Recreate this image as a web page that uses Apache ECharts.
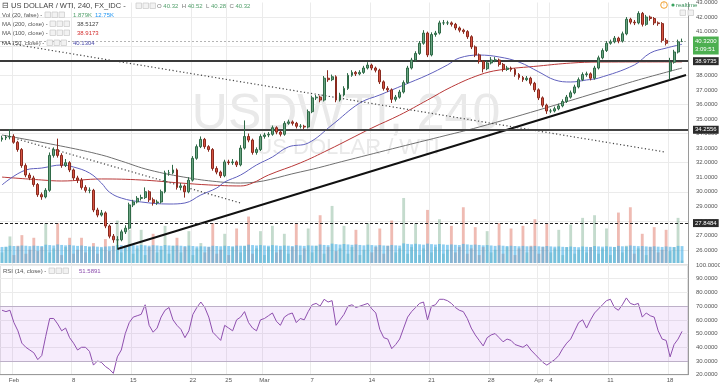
<!DOCTYPE html>
<html><head><meta charset="utf-8">
<script src="https://cdn.jsdelivr.net/npm/echarts@6/dist/echarts.min.js"></script>
<style>html,body{margin:0;padding:0;background:#fff;}#c{width:720px;height:385px;}</style>
</head><body><div id="c"></div>
<script>
// ---- data: [open, close, low, high] per 4h-style bar ----
const ohlc = [
[33.60,33.70,33.45,33.85],[33.70,33.76,33.55,33.90],[33.76,33.80,33.60,34.30],[33.80,33.40,33.30,33.95],[33.40,32.90,32.75,33.50],
[32.90,31.80,31.65,33.00],[31.80,31.15,31.00,31.95],[31.15,30.95,30.80,31.30],[30.95,30.50,30.35,31.10],[30.50,29.80,29.65,30.60],
[29.80,29.65,29.45,29.95],[29.65,30.10,29.55,30.25],[30.10,32.50,30.00,32.70],[32.50,32.90,32.35,33.05],[32.90,32.50,32.35,33.65],
[32.50,31.80,31.65,32.65],[31.80,32.00,31.70,32.25],[32.00,31.50,31.35,32.10],[31.50,30.95,30.80,31.60],[30.95,30.80,30.60,31.10],
[30.80,30.30,30.15,30.95],[30.30,30.10,29.95,30.45],[30.10,30.10,29.90,30.30],[30.10,28.75,28.60,30.20],[28.75,28.40,28.25,28.90],
[28.40,28.55,28.30,28.75],[28.55,27.65,27.50,28.65],[27.65,26.95,26.80,27.75],[26.95,26.70,26.50,27.10],[26.70,26.70,26.10,26.95],
[26.70,27.25,26.60,27.40],[27.25,27.50,27.10,27.70],[27.50,29.10,27.40,29.25],[29.10,29.30,28.95,29.45],[29.30,29.55,29.20,29.70],
[29.55,29.60,29.40,29.80],[29.60,30.00,29.50,30.30],[30.00,29.45,29.30,30.10],[29.45,29.25,29.05,29.60],[29.25,29.30,29.10,29.45],
[29.30,30.00,29.20,30.15],[30.00,31.30,29.90,31.45],[31.30,31.30,31.10,31.50],[31.30,31.50,31.20,31.85],[31.50,30.30,30.15,31.60],
[30.30,30.40,30.10,30.60],[30.40,30.00,29.60,30.50],[30.00,30.80,29.90,31.00],[30.80,32.30,30.70,32.45],[32.30,33.10,32.20,33.25],
[33.10,33.60,33.00,33.80],[33.60,33.10,32.95,33.70],[33.10,32.90,32.75,33.20],[32.90,31.60,31.45,33.00],[31.60,31.35,31.20,31.75],
[31.35,31.10,30.95,31.45],[31.10,32.05,31.00,32.20],[32.05,32.00,31.85,32.20],[32.00,32.05,31.85,32.25],[32.05,31.85,31.70,32.15],
[31.85,33.00,31.75,33.20],[33.00,33.80,32.90,34.90],[33.80,33.55,33.40,34.00],[33.55,32.70,32.55,33.65],[32.70,32.90,32.55,33.05],
[32.90,33.80,32.80,33.95],[33.80,33.90,33.65,34.05],[33.90,33.95,33.75,34.10],[33.95,34.40,33.85,34.55],[34.40,34.10,33.95,34.50],
[34.10,33.95,33.80,34.20],[33.95,34.70,33.85,34.85],[34.70,34.80,34.60,34.95],[34.80,34.70,34.55,34.90],[34.70,34.50,34.35,34.80],
[34.50,34.50,34.35,34.65],[34.50,34.45,34.30,34.60],[34.45,35.50,34.35,35.65],[35.50,36.45,35.40,36.60],[36.45,36.50,36.30,36.65],
[36.50,36.30,36.15,36.60],[36.30,37.80,36.20,37.95],[37.80,37.70,37.55,38.35],[37.70,37.90,37.60,38.05],[37.90,36.30,36.15,38.00],
[36.30,36.65,36.20,36.80],[36.65,37.10,36.55,37.25],[37.10,38.00,37.00,38.15],[38.00,38.20,37.90,38.35],[38.20,38.10,37.95,38.30],
[38.10,38.20,38.00,38.35],[38.20,38.50,38.10,38.65],[38.50,38.70,38.40,38.90],[38.70,38.50,38.35,38.80],[38.50,38.35,38.20,38.60],
[38.35,37.55,37.40,38.45],[37.55,37.10,36.95,37.65],[37.10,37.00,36.85,37.25],[37.00,36.35,36.10,37.10],[36.35,36.50,36.20,36.65],
[36.50,36.85,36.40,37.00],[36.85,37.50,36.75,37.65],[37.50,38.50,37.40,38.65],[38.50,39.05,38.40,39.20],[39.05,39.50,38.95,39.65],
[39.50,40.20,39.40,40.35],[40.20,40.90,40.10,41.10],[40.90,39.40,39.25,41.00],[39.40,40.80,39.30,40.95],[40.80,40.90,40.65,41.05],
[40.90,41.60,40.80,41.75],[41.60,41.60,41.45,41.80],[41.60,41.60,41.45,41.75],[41.60,41.50,41.35,41.70],[41.50,41.25,41.10,41.60],
[41.25,41.10,40.95,41.35],[41.10,41.00,40.85,41.20],[41.00,40.65,40.50,41.10],[40.65,39.95,39.80,40.75],[39.95,39.40,39.25,40.05],
[39.40,38.95,38.80,39.50],[38.95,38.45,38.20,39.05],[38.45,38.85,38.35,39.00],[38.85,39.05,38.75,39.25],[39.05,39.05,38.90,39.25],
[39.05,38.75,38.60,39.15],[38.75,38.40,38.25,38.85],[38.40,38.50,38.30,38.65],[38.50,38.40,38.25,38.60],[38.40,38.05,37.90,38.50],
[38.05,37.85,37.70,38.15],[37.85,37.70,37.55,37.95],[37.70,37.80,37.60,37.95],[37.80,37.45,37.30,37.90],[37.45,37.00,36.85,37.55],
[37.00,36.45,36.30,37.10],[36.45,35.95,35.80,36.55],[35.95,35.55,35.35,36.05],[35.55,35.55,35.40,35.70],[35.55,35.70,35.45,35.85],
[35.70,35.90,35.60,36.05],[35.90,36.20,35.80,36.35],[36.20,36.50,36.10,36.65],[36.50,36.80,36.40,36.95],[36.80,37.20,36.70,37.35],
[37.20,37.70,37.10,37.85],[37.70,38.05,37.60,38.20],[38.05,38.10,37.90,38.25],[38.10,37.80,37.65,38.20],[37.80,38.50,37.70,38.65],
[38.50,39.20,38.40,39.35],[39.20,39.70,39.10,39.85],[39.70,40.20,39.60,40.35],[40.20,40.30,40.10,40.45],[40.30,40.55,40.20,40.70],
[40.55,40.35,40.20,40.65],[40.35,40.85,40.25,41.00],[40.85,41.85,40.75,42.00],[41.85,41.65,41.50,41.95],[41.65,41.60,41.45,41.80],
[41.60,42.25,41.50,42.40],[42.25,41.50,41.35,42.35],[41.50,42.00,41.40,42.15],[42.00,41.90,41.75,42.10],[41.90,41.60,41.45,42.00],
[41.60,41.55,41.40,41.70],[41.55,40.40,40.25,41.65],[40.40,40.20,40.05,40.55],[38.30,38.90,37.70,39.20],[38.90,39.60,38.80,39.75],
[39.60,40.30,39.50,40.45],[40.32,40.32,40.28,40.52]
];
// volume (thousands)
const volumeK = [
8,12,20, 6,13,21, 7,10,19, 9,12,30, 8,11,30, 6,12,19, 7,10,19, 8,12,15, 7,11,18, 9,13,32,
8,12,25, 7,11,25, 6,12,22, 8,10,28, 7,13,19, 8,12,24, 6,11,15, 8,12,30, 7,10,22, 6,12,26,
8,13,35, 7,11,24, 6,12,28, 8,10,22, 7,12,30, 6,11,26, 8,13,36, 7,12,43, 9,11,28, 7,12,25,
6,10,30, 8,12,26, 7,13,32, 8,11,49, 7,12,30, 6,11,40, 8,12,33, 7,10,28, 8,12,42, 7,11,27,
6,12,24, 8,10,30, 7,12,26, 6,11,28, 8,13,33, 7,12,30, 8,11,25, 6,12,29, 7,10,34, 8,12,36,
7,11,26, 6,12,38, 8,13,42, 7,11,22, 6,12,27, 8,10,25, 9,12,34,
1.879
];
// volume moving average (thousands)
const volumeMAK = [
12.1,12.3,13.0, 12.8,12.6,13.2, 13.0,12.7,13.1, 12.9,12.8,13.8, 13.5,13.2,14.0, 13.6,13.3,13.6, 13.2,12.9,13.2, 12.8,12.5,12.6, 12.3,12.1,12.4, 12.6,12.8,13.6,
13.4,13.2,13.7, 13.5,13.2,13.6, 13.3,13.0,13.4, 13.2,12.9,13.5, 13.2,13.0,13.2, 13.0,12.8,13.1, 12.8,12.5,12.6, 12.5,12.3,13.0, 12.8,12.6,13.0, 12.8,12.6,13.1,
13.0,12.9,13.8, 13.5,13.2,13.5, 13.2,13.0,13.5, 13.2,12.9,13.2, 13.0,12.8,13.4, 13.1,12.9,13.3, 13.1,13.0,13.9, 13.6,13.4,14.6, 14.2,13.9,14.3, 14.0,13.7,14.0,
13.6,13.3,13.8, 13.5,13.2,13.5, 13.2,13.0,13.6, 13.3,13.1,14.8, 14.4,14.1,14.5, 14.1,13.8,14.6, 14.2,13.9,14.3, 14.0,13.7,14.0, 13.7,13.5,14.4, 14.0,13.7,13.9,
13.6,13.3,13.5, 13.2,12.9,13.3, 13.0,12.8,13.0, 12.8,12.6,12.9, 12.6,12.4,12.9, 12.6,12.4,12.8, 12.5,12.3,12.5, 12.2,12.0,12.4, 12.1,11.9,12.5, 12.2,12.0,12.8,
12.5,12.3,12.6, 12.3,12.1,12.9, 12.6,12.4,13.2, 12.9,12.7,12.8, 12.5,12.3,12.6, 12.3,12.1,12.5, 12.2,12.0,12.9,
12.75
];
const rsi = [
67,66,67,58,52,43,40,38,36,31, 34,48,61,61,57,52,54,47,43,38, 40,40,37,27,30,29,26,24,21,33,
38,50,58,62,63,64,71,56,51,54, 62,67,69,60,56,53,47,52,64,69, 73,69,62,51,48,45,56, 54,
52,60,62,66,58,54,52,60,61,63, 65,59,56,62,64,65,58,61,60,66, 71,72,70,75,73,74,56,60,64,70,
71,69,70,71,72,68,65,53,47,46, 39,42,46,54,62,66,69,72,73,60, 70,71,75,75,74,72,69, 67,
66,61,54,49,45,41,47,49,50,47, 44,46,45,42,41,40,42,38,35,32, 29,27,29,31,34,39,43,46,52,58,
60,54,60,65, 68,71,74,75,69,67,71,76,72,71, 72,62,65,63,62,52,46,45,33,42, 46,51.59
];
// moving averages: [bar index, value]
const ma50 = [[0,30.47],[6,31.50],[10,31.63],[15,31.84],[18,31.70],[22,31.29],[25,30.60],[27,29.98],[30,29.57],[35,29.30],[42,29.16],[46,29.23],[50,29.78],[54,30.26],[56,30.67],[60,31.15],[64,31.84],[68,32.39],[72,33.08],[77,33.35],[83,34.59],[90,36.10],[95,36.65],[101,37.33],[107,38.02],[112,38.71],[115,39.19],[120,39.39],[125,39.26],[130,38.91],[135,38.23],[139,37.68],[143,37.54],[147,37.68],[150,37.81],[159,38.71],[163,39.53],[167,39.87],[171,40.13]];
const ma100 = [[0,31.01],[10,30.81],[15,30.74],[25,30.88],[35,30.81],[45,30.60],[52,30.47],[60,30.40],[63,30.60],[67,31.15],[75,31.98],[82,32.87],[93,34.38],[100,35.27],[107,36.30],[113,37.20],[120,38.02],[125,38.36],[135,38.64],[143,38.84],[150,38.91],[171,38.92]];
const ma200 = [[0,33.90],[16,33.08],[25,32.53],[30,32.11],[37,31.50],[47,30.95],[55,30.67],[60,30.60],[75,31.36],[87,32.18],[100,33.08],[110,33.76],[120,34.45],[135,35.62],[150,36.85],[160,37.68],[171,38.50]];
// drawn trend lines: [bar index, price]
const supportLine = [[29,26.07],[172,38.02]];
const dotLineLong = [[0,40.27],[167,32.72]];
const dotLineShort = [[3,33.69],[60,29.23]];
// horizontal levels
const levelMain = 38.9735, levelMid = 34.2556, levelLow = 27.8484, lastPrice = 40.32;
// x-axis ticks
const tickIndex = [3,18,33,48,57,66,78,93,108,123,135,138,153,168];
const tickText = ['Feb','8','15','22','25','Mar','7','14','21','28','Apr','4','11','18'];
const N_CAT = 173;

const FF = 'Liberation Sans, Arial, sans-serif';
const categories = Array.from({length: N_CAT}, (_, i) => 'b' + i);
const isTick = i => tickIndex.indexOf(i) >= 0;
const volData = volumeK.map((v, i) => ({value: v * 1000, itemStyle: {color: ohlc[i][1] >= ohlc[i][0] ? 'rgba(107,165,131,0.40)' : 'rgba(215,84,66,0.40)'}}));
const volMA = volumeMAK.map(v => v * 1000);

function txt(x, y, text, color, size, extra) {
  return Object.assign({type: 'text', x: x, y: y, z: 100, silent: true,
    style: Object.assign({text: text, fill: color, font: (size || 6) + 'px ' + FF, textVerticalAlign: 'middle'}, extra || {})});
}
function icons(x, y) {
  const out = [];
  for (let k = 0; k < 3; k++) out.push({type: 'rect', z: 100, silent: true, shape: {x: x + k * 7, y: y - 3, width: 5.5, height: 5.5}, style: {fill: '#f2f2f2', stroke: '#c8c8c8', lineWidth: 0.7}});
  return out;
}
const graphics = [
  {type: 'text', x: 346, y: 115, z: -5, silent: true, style: {text: 'USDWTI, 240', fill: '#e9e9e9', font: '50px ' + FF, textAlign: 'center', textVerticalAlign: 'middle'}},
  {type: 'text', x: 348, y: 148, z: -5, silent: true, style: {text: 'US DOLLAR / WTI', fill: '#e9e9e9', font: '22px ' + FF, textAlign: 'center', textVerticalAlign: 'middle'}},
  txt(2, 6, '⊟ US DOLLAR / WTI, 240, FX_IDC -', '#444', 7.5),
  ...icons(136, 6),
  txt(157, 6, '{k|O} {v|40.32}  {k|H} {v|40.52}  {k|L} {v|40.28}  {k|C} {v|40.32}', '#777', 6, {rich: {k: {fill: '#777', font: '6px ' + FF}, v: {fill: '#53a06c', font: '6px ' + FF}}}),
  txt(2, 15, 'Vol (20, false) -', '#555', 6), ...icons(45, 15),
  txt(73, 15, '1.879K', '#53a06c', 6), txt(95, 15, '12.75K', '#2196f3', 6),
  txt(2, 24, 'MA (200, close) -', '#555', 6), ...icons(50, 24), txt(77, 24, '38.5127', '#444', 6),
  txt(2, 33, 'MA (100, close) -', '#555', 6), ...icons(50, 33), txt(77, 33, '38.9173', '#d32f2f', 6),
  txt(2, 43, 'MA (50, close) -', '#555', 6), ...icons(47, 43), txt(73, 43, '40.1304', '#4a4aa8', 6),
  txt(3, 271, 'RSI (14, close) -', '#555', 6), ...icons(49, 271), txt(79, 271, '51.5891', '#8e4fae', 6),
  {type: 'circle', z: 100, silent: true, shape: {cx: 664, cy: 5, r: 3.3}, style: {fill: '#fff', stroke: '#f0a030', lineWidth: 1}},
  txt(664, 5, '!', '#f0a030', 5, {textAlign: 'center'}),
  {type: 'circle', z: 100, silent: true, shape: {cx: 673, cy: 5, r: 1.6}, style: {fill: '#3aa360'}},
  txt(676, 5, 'realtime', '#3a8f5a', 6),
  {type: 'rect', z: 100, silent: true, shape: {x: 680, y: 10, width: 5.5, height: 5.5}, style: {fill: '#f2f2f2', stroke: '#c8c8c8', lineWidth: 0.7}},
  {type: 'rect', z: 100, silent: true, shape: {x: 688, y: 10, width: 5.5, height: 5.5}, style: {fill: '#f2f2f2', stroke: '#c8c8c8', lineWidth: 0.7}}
];

const chart = echarts.init(document.getElementById('c'), null, {renderer: 'canvas', width: 720, height: 385});
const axisLbl = {fontSize: 6, color: '#555', fontFamily: FF};
chart.setOption({
  animation: false,
  textStyle: {fontFamily: FF},
  grid: [
    {left: 0, right: 32, top: 2.5, height: 262.08, outerBoundsMode: 'none'},
    {left: 0, right: 32, top: 190, height: 73, outerBoundsMode: 'none'},
    {left: 0, right: 32, top: 265, height: 109.7, show: true, borderColor: '#c4c4c4', borderWidth: 1, backgroundColor: 'transparent', outerBoundsMode: 'none'}
  ],
  xAxis: [
    {type: 'category', gridIndex: 0, data: categories, boundaryGap: true, axisLine: {show: false}, axisTick: {show: false}, axisLabel: {show: false},
     splitLine: {show: true, interval: i => isTick(i), lineStyle: {color: '#ebebeb', width: 1}}},
    {type: 'category', gridIndex: 1, data: categories, boundaryGap: true, show: false},
    {type: 'category', gridIndex: 2, data: categories, boundaryGap: true, axisLine: {show: true, lineStyle: {color: '#9a9a9a'}}, axisTick: {show: false},
     axisLabel: Object.assign({show: true, interval: i => isTick(i), formatter: (v, i) => { const k = tickIndex.indexOf(i); return k >= 0 ? tickText[k] : ''; }, margin: 3}, axisLbl),
     splitLine: {show: true, interval: i => isTick(i), lineStyle: {color: '#ebebeb', width: 1}}}
  ],
  yAxis: [
    {type: 'value', gridIndex: 0, position: 'right', min: 25, max: 43, interval: 1,
     axisLine: {show: true, lineStyle: {color: '#9a9a9a'}}, axisTick: {show: false},
     axisLabel: Object.assign({margin: 8, formatter: v => v < 26 ? '' : v.toFixed(4)}, axisLbl),
     splitLine: {show: true, lineStyle: {color: ['rgba(0,0,0,0)', '#ebebeb'], width: 1}}},
    {type: 'value', gridIndex: 1, min: 0, max: 55000, show: false, splitLine: {show: false}},
    {type: 'value', gridIndex: 2, position: 'right', min: 20, max: 100, interval: 10,
     axisLine: {show: true, lineStyle: {color: '#9a9a9a'}}, axisTick: {show: false},
     axisLabel: Object.assign({margin: 8, formatter: v => v.toFixed(4)}, axisLbl),
     splitLine: {show: true, lineStyle: {color: '#ebebeb', width: 1}}}
  ],
  graphic: {elements: graphics},
  series: [
    {type: 'bar', name: 'vol', xAxisIndex: 1, yAxisIndex: 1, data: volData, barWidth: '72%', z: 1, silent: true},
    {type: 'bar', name: 'volma', xAxisIndex: 1, yAxisIndex: 1, data: volMA, barWidth: '72%', barGap: '-100%', z: 1, silent: true,
     itemStyle: {color: 'rgba(72,178,232,0.62)'}},
    {type: 'line', name: 'ma200', xAxisIndex: 0, yAxisIndex: 0, data: ma200, symbol: 'none', smooth: 0.4, z: 3,
     lineStyle: {color: '#707070', width: 1}},
    {type: 'line', name: 'ma100', xAxisIndex: 0, yAxisIndex: 0, data: ma100, symbol: 'none', smooth: 0.4, z: 3,
     lineStyle: {color: '#b83838', width: 1}},
    {type: 'line', name: 'ma50', xAxisIndex: 0, yAxisIndex: 0, data: ma50, symbol: 'none', smooth: 0.4, z: 3,
     lineStyle: {color: '#6060bd', width: 1}},
    {type: 'line', name: 'support', xAxisIndex: 0, yAxisIndex: 0, data: supportLine, symbol: 'none', z: 4,
     lineStyle: {color: '#111', width: 2}},
    {type: 'line', name: 'dotLong', xAxisIndex: 0, yAxisIndex: 0, data: dotLineLong, symbol: 'none', z: 4,
     lineStyle: {color: '#444', width: 1.2, type: [1.2, 2.4]}},
    {type: 'line', name: 'dotShort', xAxisIndex: 0, yAxisIndex: 0, data: dotLineShort, symbol: 'none', z: 4,
     lineStyle: {color: '#444', width: 1.2, type: [1.2, 2.4]}},
    {type: 'candlestick', name: 'price', xAxisIndex: 0, yAxisIndex: 0, data: ohlc, barWidth: 2.4, z: 5,
     itemStyle: {color: '#6ba583', color0: '#d75442', borderColor: '#2f6a47', borderColor0: '#8a2a1f', borderWidth: 1},
     markLine: {symbol: ['none', 'none'], silent: true, animation: false,
       label: {position: 'end', distance: 5, fontSize: 6, padding: [1, 2], fontFamily: FF},
       data: [
         {yAxis: lastPrice, lineStyle: {color: '#b4b4b4', width: 1, type: [2, 2]},
          label: {formatter: lastPrice.toFixed(4) + '\n3:09:51', backgroundColor: '#4caf50', color: '#fff', lineHeight: 8, offset: [0, 4]}},
         {yAxis: levelMain, lineStyle: {color: '#3a3a3a', width: 2, type: 'solid'},
          label: {formatter: levelMain.toFixed(4), backgroundColor: '#2b2b2b', color: '#fff'}},
         {yAxis: levelMid, lineStyle: {color: '#444', width: 2, type: 'solid'},
          label: {formatter: levelMid.toFixed(4), backgroundColor: '#2b2b2b', color: '#fff'}},
         {yAxis: levelLow, lineStyle: {color: '#222', width: 1, type: [3, 2]},
          label: {formatter: levelLow.toFixed(4), backgroundColor: '#2b2b2b', color: '#fff'}}
       ]}},
    {type: 'line', name: 'rsi', xAxisIndex: 2, yAxisIndex: 2, data: rsi, symbol: 'none', z: 4,
     lineStyle: {color: '#8e4fae', width: 1},
     markArea: {silent: true, itemStyle: {color: 'rgba(190,120,235,0.14)'}, data: [[{yAxis: 30}, {yAxis: 70}]]},
     markLine: {symbol: ['none', 'none'], silent: true, label: {show: false},
       lineStyle: {color: '#bdb0c8', width: 1, type: 'solid'}, data: [{yAxis: 70}, {yAxis: 30}]}}
  ]
});
</script></body></html>
